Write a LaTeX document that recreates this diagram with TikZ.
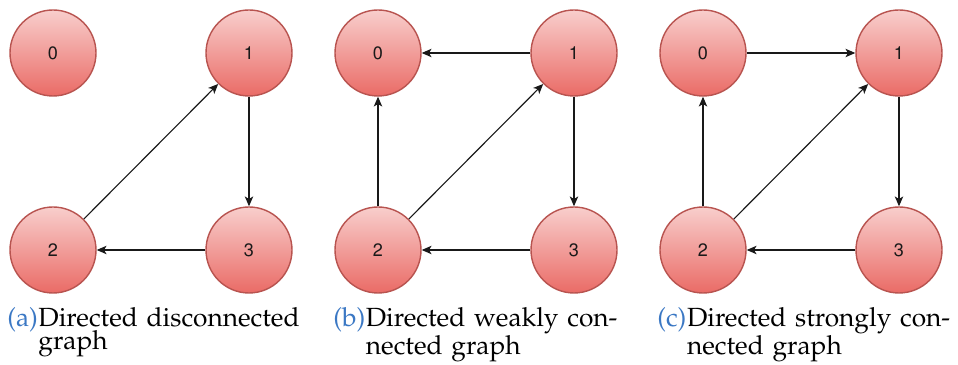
\documentclass[tikz,border=0pt]{standalone}
\usepackage[T1]{fontenc}
\usepackage{mathpazo}
\usepackage[scaled=0.95]{helvet}
\usetikzlibrary{arrows.meta}

\definecolor{vfilltop}{HTML}{F8CECC}
\definecolor{vfillbot}{HTML}{EA6B66}
\definecolor{vborder}{HTML}{B85450}
\definecolor{capblue}{HTML}{3B78C4}

\tikzset{
    vertex/.style={circle, draw=vborder, line width=1pt,
        top color=vfilltop, bottom color=vfillbot,
        minimum size=2.15cm, inner sep=0pt,
        font=\sffamily\fontsize{13.5}{16}\selectfont, text=black!90},
    edge/.style={-{Stealth[length=7pt,width=6pt,inset=1.8pt]}, line width=0.8pt, black!90},
    sublabel/.style={anchor=base west, inner sep=0pt, text=capblue,
        font=\fontsize{18.7}{16.8}\selectfont},
    captext/.style={anchor=base west, inner sep=0pt, text width=6.55cm, align=left,
        font=\fontsize{18.7}{16.8}\selectfont},
}

\begin{document}
\begin{tikzpicture}
    \useasboundingbox (0,0) rectangle (23.95,9.125);

    % the four vertices of every panel
    \foreach \p/\dx in {a/0, b/8.125, c/16.25} {
        \node[vertex] (\p0) at (1.325+\dx,7.8) {0};
        \node[vertex] (\p1) at (6.225+\dx,7.8) {1};
        \node[vertex] (\p2) at (1.325+\dx,2.875) {2};
        \node[vertex] (\p3) at (6.225+\dx,2.875) {3};
    }

    % (a)
    \draw[edge] (a1) -- (a3);
    \draw[edge] (a3) -- (a2);
    \draw[edge] (a2) -- (a1);

    % (b)
    \draw[edge] (b1) -- (b0);
    \draw[edge] (b2) -- (b0);
    \draw[edge] (b2) -- (b1);
    \draw[edge] (b1) -- (b3);
    \draw[edge] (b3) -- (b2);

    % (c)
    \draw[edge] (c0) -- (c1);
    \draw[edge] (c2) -- (c0);
    \draw[edge] (c2) -- (c1);
    \draw[edge] (c1) -- (c3);
    \draw[edge] (c3) -- (c2);

    % captions
    \node[sublabel] (capa) at (0.175,0.97) {(a)};
    \node[captext] (texta) at (capa.base east) {Directed disconnected\\graph};

    \node[sublabel] (capb) at (8.325,0.97) {(b)};
    \node[captext] (textb) at (capb.base east)
        {\makebox[\linewidth][s]{Directed weakly con-}\\nected graph};

    \node[sublabel] (capc) at (16.425,0.97) {(c)};
    \node[captext] (textc) at (capc.base east)
        {\makebox[\linewidth][s]{Directed strongly con-}\\nected graph};
\end{tikzpicture}
\end{document}
